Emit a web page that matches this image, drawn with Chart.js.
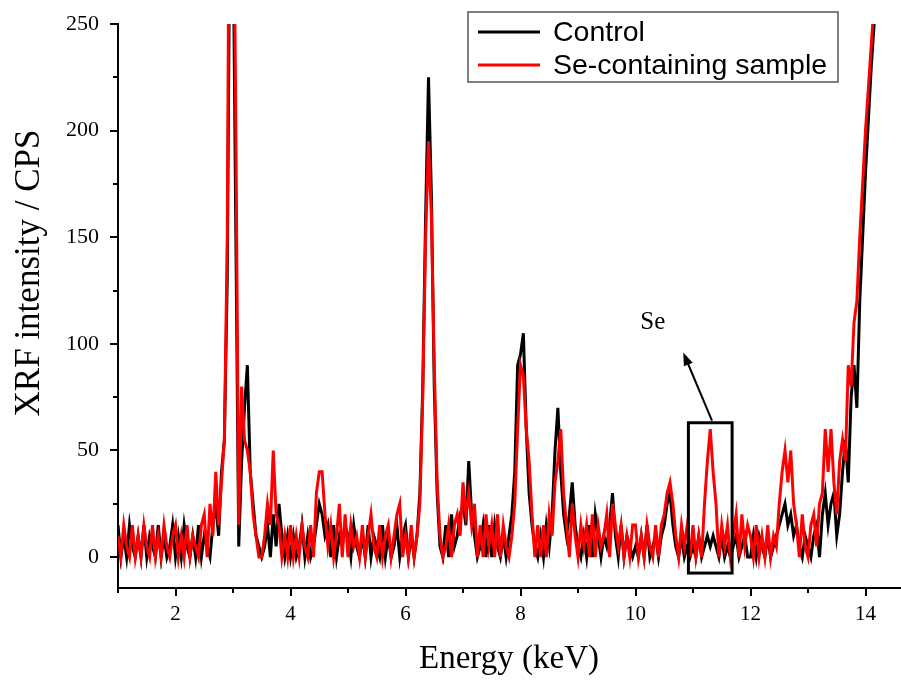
<!DOCTYPE html>
<html lang="en">
<head>
    <meta charset="UTF-8">
    <title>XRF spectrum - Control vs Se-containing sample</title>
    <script src="https://cdn.jsdelivr.net/npm/chart.js"></script>
    <style>
        body {
            margin: 0;
            padding: 0;
            background: #fff;
        }
        #wrap {
            width: 901px;
            height: 683px;
        }
    </style>
</head>
<body>

<div id="wrap">
    <canvas id="xrfChart" width="901" height="683"></canvas>
</div>

<script>
    // channel calibration: 1.00 keV start, 0.05 keV per channel
    const energyStart = 1.0;
    const energyStep = 0.05;

    // Control, CPS (one row = 1 keV)
    const controlCps = [
        15, 0, 10, 0, 15, 5, 0, 10, 0, 15, 0, 10, 5, 0, 15, 0, 10, 0, 5, 15,            // 1
        0, 10, 0, 15, 5, 0, 10, 0, 15, 0, 10, 5, 0, 15, 25, 10, 40, 55, 130, 320,       // 2
        300, 150, 5, 45, 70, 90, 40, 25, 10, 5, 0, 5, 15, 0, 20, 5, 25, 10, 0, 10,      // 3
        0, 10, 0, 5, 15, 0, 10, 0, 5, 15, 25, 20, 10, 15, 0, 15, 0, 10, 5, 15,          // 4
        10, 0, 15, 5, 0, 10, 0, 15, 0, 10, 5, 0, 15, 0, 10, 0, 5, 15, 0, 10,            // 5
        15, 0, 10, 0, 10, 30, 80, 160, 225, 170, 80, 30, 5, 0, 15, 0, 20, 5, 10, 20,    // 6
        25, 15, 45, 20, 10, 0, 5, 15, 0, 15, 0, 15, 5, 0, 10, 0, 10, 20, 40, 90,        // 7
        95, 105, 60, 30, 15, 5, 0, 10, 0, 15, 5, 20, 50, 70, 40, 20, 10, 20, 35, 15,    // 8
        5, 0, 10, 0, 15, 0, 20, 10, 0, 10, 5, 15, 30, 10, 0, 15, 0, 10, 5, 0,           // 9
        5, 0, 10, 0, 15, 0, 5, 10, 0, 10, 15, 25, 30, 15, 5, 0, 10, 0, 5, 0,            // 10
        5, 0, 10, 0, 5, 10, 5, 10, 5, 0, 10, 0, 5, 0, 5, 10, 0, 5, 10, 0,               // 11
        0, 10, 0, 10, 5, 0, 10, 0, 5, 10, 15, 20, 25, 15, 20, 10, 15, 5, 0, 10,         // 12
        5, 0, 10, 15, 0, 20, 30, 15, 25, 30, 10, 20, 40, 55, 35, 75, 90, 70, 120, 150,  // 13
        180, 205, 230, 250                                                              // 14
    ];

    // Se-containing sample, CPS
    const seSampleCps = [
        10, 0, 15, 5, 0, 15, 0, 10, 0, 15, 5, 0, 15, 0, 10, 0, 15, 5, 0, 10,            // 1
        15, 0, 10, 0, 15, 0, 10, 5, 0, 15, 20, 0, 25, 10, 40, 15, 35, 55, 150, 400,     // 2
        350, 200, 15, 80, 55, 50, 40, 20, 10, 0, 0, 10, 25, 15, 50, 20, 15, 0, 10, 0,   // 3
        15, 0, 10, 0, 15, 5, 0, 15, 0, 30, 40, 40, 20, 5, 15, 0, 10, 25, 0, 20,         // 4
        0, 15, 5, 10, 0, 15, 0, 10, 20, 5, 0, 15, 0, 10, 15, 0, 10, 20, 25, 0,          // 5
        10, 0, 15, 0, 10, 25, 75, 150, 195, 160, 90, 35, 10, 0, 5, 15, 0, 15, 20, 10,   // 6
        35, 20, 30, 15, 25, 0, 15, 0, 20, 5, 15, 0, 20, 0, 15, 5, 0, 10, 25, 60,        // 7
        90, 85, 60, 45, 20, 0, 15, 0, 15, 0, 20, 10, 35, 45, 60, 30, 15, 0, 25, 10,     // 8
        0, 15, 5, 15, 0, 20, 0, 15, 5, 10, 20, 0, 25, 15, 5, 15, 0, 10, 0, 15,          // 9
        15, 0, 10, 0, 15, 5, 0, 15, 0, 15, 20, 30, 35, 25, 10, 0, 15, 5, 15, 0,         // 10
        15, 0, 10, 0, 25, 45, 60, 40, 25, 0, 15, 5, 15, 0, 10, 20, 0, 20, 5, 15,        // 11
        10, 0, 15, 0, 10, 0, 15, 0, 10, 5, 25, 40, 50, 35, 50, 25, 15, 0, 20, 5,        // 12
        0, 15, 20, 5, 25, 30, 60, 40, 60, 35, 20, 45, 55, 45, 90, 80, 110, 120, 150, 175, // 13
        200, 220, 240, 260                                                              // 14
    ];

    const xTicks = [1, 2, 3, 4, 5, 6, 7, 8, 9, 10, 11, 12, 13, 14];
    const yTicks = [0, 25, 50, 75, 100, 125, 150, 175, 200, 225, 250];
    const legendLabels = ['Control', 'Se-containing sample'];
    const seriesColors = ['#000000', '#ff0000'];
    const yTitle = 'XRF intensity / CPS';

    // Se peak annotation (data units)
    const seBox = { xMin: 10.92, xMax: 11.68, yMin: -7.5, yMax: 63 };
    const seArrow = { fromX: 11.33, fromY: 64, toX: 10.83, toY: 96 };
    const seLabel = { text: 'Se', x: 10.30, y: 110 };

    function toPoints(values) {
        return values.map((v, i) => ({ x: +(energyStart + i * energyStep).toFixed(2), y: v }));
    }

    const SERIF = '"Liberation Serif", "Times New Roman", serif';
    const SANS = '"Liberation Sans", Arial, sans-serif';

    const decorPlugin = {
        id: 'decor',
        afterDraw(chart) {
            const ctx = chart.ctx;
            const xs = chart.scales.x;
            const ys = chart.scales.y;
            const area = chart.chartArea;
            ctx.save();

            // tick marks (outside), minor ones shorter
            ctx.strokeStyle = '#000';
            ctx.lineWidth = 2;
            xTicks.forEach(v => {
                const px = Math.round(xs.getPixelForValue(v));
                const len = v % 2 === 0 ? 8 : 5;
                ctx.beginPath();
                ctx.moveTo(px, area.bottom);
                ctx.lineTo(px, area.bottom + len);
                ctx.stroke();
            });
            yTicks.forEach(v => {
                const py = Math.round(ys.getPixelForValue(v));
                const len = v % 50 === 0 ? 8 : 5;
                ctx.beginPath();
                ctx.moveTo(area.left, py);
                ctx.lineTo(area.left - len, py);
                ctx.stroke();
            });

            // y axis title, a bit above the middle of the axis like the original
            ctx.save();
            ctx.translate(30, 273);
            ctx.rotate(-Math.PI / 2);
            ctx.font = '35px ' + SERIF;
            ctx.fillStyle = '#000';
            ctx.textAlign = 'center';
            ctx.textBaseline = 'middle';
            ctx.fillText(yTitle, 0, 0);
            ctx.restore();

            // box around the Se peak
            ctx.lineWidth = 3;
            const bx1 = xs.getPixelForValue(seBox.xMin);
            const bx2 = xs.getPixelForValue(seBox.xMax);
            const by1 = ys.getPixelForValue(seBox.yMax);
            const by2 = ys.getPixelForValue(seBox.yMin);
            ctx.strokeRect(bx1, by1, bx2 - bx1, by2 - by1);

            // arrow
            const ax1 = xs.getPixelForValue(seArrow.fromX);
            const ay1 = ys.getPixelForValue(seArrow.fromY);
            const ax2 = xs.getPixelForValue(seArrow.toX);
            const ay2 = ys.getPixelForValue(seArrow.toY);
            const ang = Math.atan2(ay2 - ay1, ax2 - ax1);
            ctx.lineWidth = 2;
            ctx.beginPath();
            ctx.moveTo(ax1, ay1);
            ctx.lineTo(ax2 - 8 * Math.cos(ang), ay2 - 8 * Math.sin(ang));
            ctx.stroke();
            ctx.fillStyle = '#000';
            ctx.beginPath();
            ctx.moveTo(ax2, ay2);
            ctx.lineTo(ax2 - 14 * Math.cos(ang - 0.35), ay2 - 14 * Math.sin(ang - 0.35));
            ctx.lineTo(ax2 - 14 * Math.cos(ang + 0.35), ay2 - 14 * Math.sin(ang + 0.35));
            ctx.closePath();
            ctx.fill();

            ctx.font = '25px ' + SERIF;
            ctx.textAlign = 'center';
            ctx.textBaseline = 'middle';
            ctx.fillText(seLabel.text, xs.getPixelForValue(seLabel.x), ys.getPixelForValue(seLabel.y));

            // legend box in the top right corner
            const lx = area.right - 432;
            const ly = area.top - 12;
            ctx.fillStyle = '#fff';
            ctx.fillRect(lx, ly, 370, 70);
            ctx.strokeStyle = '#555';
            ctx.lineWidth = 1.5;
            ctx.strokeRect(lx, ly, 370, 70);
            ctx.font = '28.5px ' + SANS;
            ctx.textAlign = 'left';
            legendLabels.forEach((label, i) => {
                const rowY = ly + 20 + i * 33;
                ctx.strokeStyle = seriesColors[i];
                ctx.lineWidth = 3;
                ctx.beginPath();
                ctx.moveTo(lx + 10, rowY);
                ctx.lineTo(lx + 72, rowY);
                ctx.stroke();
                ctx.fillStyle = '#000';
                ctx.fillText(label, lx + 85, rowY + 1);
            });

            ctx.restore();
        }
    };

    const ctx = document.getElementById('xrfChart').getContext('2d');
    new Chart(ctx, {
        type: 'line',
        data: {
            datasets: [
                {
                    label: legendLabels[0],
                    data: toPoints(controlCps),
                    borderColor: seriesColors[0],
                    borderWidth: 3,
                    pointRadius: 0,
                    tension: 0,
                    order: 1
                },
                {
                    label: legendLabels[1],
                    data: toPoints(seSampleCps),
                    borderColor: seriesColors[1],
                    borderWidth: 3,
                    pointRadius: 0,
                    tension: 0,
                    order: 0
                }
            ]
        },
        options: {
            responsive: false,
            animation: false,
            layout: { padding: { top: 24, right: 1, left: 0, bottom: 0 } },
            plugins: {
                legend: { display: false },
                tooltip: { enabled: false }
            },
            scales: {
                x: {
                    type: 'linear',
                    min: 1,
                    max: 14.6,
                    grid: { display: false, drawTicks: false },
                    border: { display: true, color: '#000', width: 2 },
                    ticks: {
                        stepSize: 1,
                        autoSkip: false,
                        includeBounds: false,
                        maxRotation: 0,
                        padding: 14,
                        color: '#000',
                        font: { family: SERIF, size: 21 },
                        callback: v => (v % 2 === 0 ? v : '')
                    },
                    title: {
                        display: true,
                        text: 'Energy (keV)',
                        color: '#000',
                        font: { family: SERIF, size: 33 },
                        padding: { top: 12 }
                    },
                    afterFit: scale => {
                        scale.height = 95;
                        scale.paddingLeft = 0;
                        scale.paddingRight = 0;
                    }
                },
                y: {
                    min: -14.5,
                    max: 250,
                    grid: { display: false, drawTicks: false },
                    border: { display: true, color: '#000', width: 2 },
                    ticks: {
                        stepSize: 25,
                        autoSkip: false,
                        includeBounds: false,
                        padding: 19,
                        color: '#000',
                        font: { family: SERIF, size: 22 },
                        callback: v => (v % 50 === 0 ? v : '')
                    },
                    afterFit: scale => {
                        scale.width = 118;
                        scale.paddingTop = 0;
                        scale.paddingBottom = 0;
                    }
                }
            }
        },
        plugins: [decorPlugin]
    });
</script>
</body>
</html>
